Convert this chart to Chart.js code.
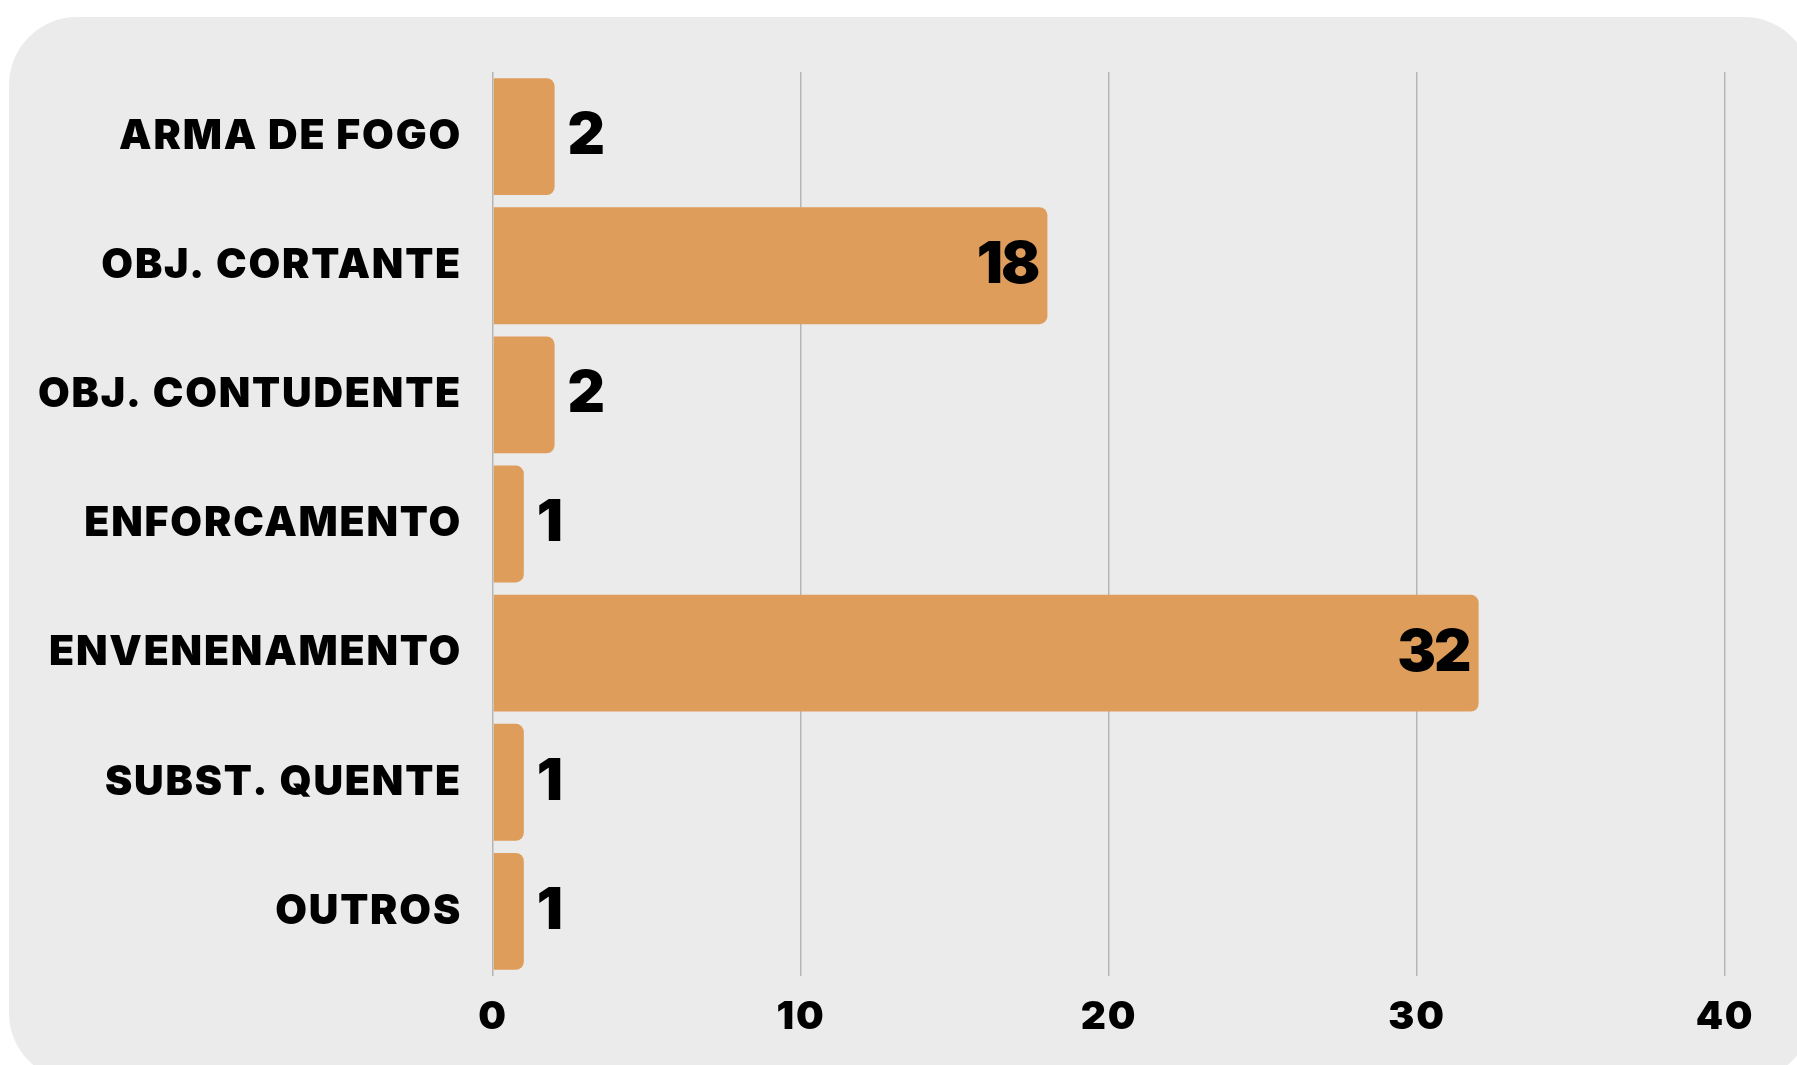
<!DOCTYPE html>
<html>
<head>
<meta charset="utf-8">
<script src="https://cdn.jsdelivr.net/npm/chart.js@4/dist/chart.umd.min.js"></script>
<style>
    html, body { margin: 0; padding: 0; background: #ffffff; overflow: hidden; }
    #panel {
        position: absolute; left: 9px; top: 17px; width: 1803px; height: 1064px;
        background: #ebebeb; border-radius: 68px;
    }
    #wrap { position: absolute; left: 0; top: 0; width: 1797px; height: 1065px; }
</style>
</head>
<body>
<div id="panel"></div>
<div id="wrap"><canvas id="methodChart"></canvas></div>
<script>
const categories = ["ARMA DE FOGO", "OBJ. CORTANTE", "OBJ. CONTUDENTE", "ENFORCAMENTO", "ENVENENAMENTO", "SUBST. QUENTE", "OUTROS"];
const counts = [2, 18, 2, 1, 32, 1, 1];
const xTicks = [0, 10, 20, 30, 40];

const FONT = "Inter, 'DejaVu Sans', sans-serif";

// wider tracking for the axis text (the original uses a wide font)
const spacing = {
    id: 'spacing',
    beforeDraw(chart) {
        chart.ctx.letterSpacing = '1.8px';
    }
};

// draws the value next to / inside each bar
const valueLabels = {
    id: 'valueLabels',
    afterDatasetsDraw(chart) {
        const ctx = chart.ctx;
        const meta = chart.getDatasetMeta(0);
        ctx.save();
        ctx.letterSpacing = '-2px';
        ctx.font = "900 58px " + FONT;
        ctx.fillStyle = '#000000';
        ctx.textBaseline = 'middle';
        meta.data.forEach(function (bar, i) {
            const text = String(counts[i]);
            const w = ctx.measureText(text).width;
            const barWidth = bar.x - bar.base;
            if (barWidth > w + 30) {
                ctx.textAlign = 'right';
                ctx.fillText(text, bar.x - 9, bar.y);
            } else {
                ctx.textAlign = 'left';
                ctx.fillText(text, bar.x + 13, bar.y);
            }
        });
        ctx.restore();
    }
};

document.addEventListener("DOMContentLoaded", function () {
    const ctx = document.getElementById("methodChart").getContext("2d");
    new Chart(ctx, {
        type: 'bar',
        data: {
            labels: categories,
            datasets: [{
                data: counts,
                backgroundColor: '#de9d5b',
                borderRadius: 8,
                borderSkipped: 'start',
                barPercentage: 0.905,
                categoryPercentage: 1.0
            }]
        },
        options: {
            indexAxis: 'y',
            responsive: true,
            maintainAspectRatio: false,
            animation: false,
            layout: {padding: {left: 0, right: 72, top: 72, bottom: 0}},
            plugins: {
                legend: {display: false},
                tooltip: {enabled: false}
            },
            scales: {
                x: {
                    min: 0,
                    max: 40,
                    afterBuildTicks: function (axis) {
                        axis.ticks = xTicks.map(v => ({value: v}));
                    },
                    afterFit: function (axis) { axis.height = 89; },
                    grid: {color: '#b5b5b5', lineWidth: 1.5, drawTicks: false},
                    border: {display: false},
                    ticks: {
                        color: '#000000',
                        padding: 18,
                        font: {family: FONT, size: 39, weight: '900'}
                    }
                },
                y: {
                    afterFit: function (axis) { axis.width = 493; },
                    grid: {display: false, drawTicks: false},
                    border: {display: false},
                    ticks: {
                        color: '#000000',
                        padding: 31,
                        font: {family: FONT, size: 41, weight: '900'}
                    }
                }
            }
        },
        plugins: [spacing, valueLabels]
    });
});
</script>
</body>
</html>
